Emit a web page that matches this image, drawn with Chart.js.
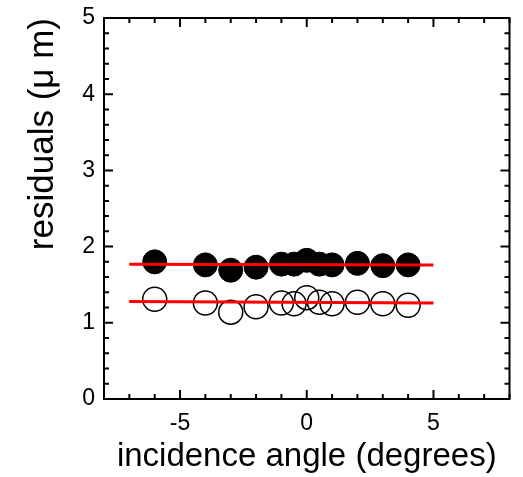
<!DOCTYPE html>
<html>
<head>
<meta charset="utf-8">
<script src="https://cdn.jsdelivr.net/npm/chart.js@4/dist/chart.umd.min.js"></script>
<style>
html,body{margin:0;padding:0;background:#fff;}
#wrap{width:523px;height:477px;position:relative;}
</style>
</head>
<body>
<div id="wrap"><canvas id="c" width="523" height="477"></canvas></div>
<script>
// ---- data ----
const angles = [-6, -4, -3, -2, -1, -0.5, 0, 0.5, 1, 2, 3, 4];
const filledResiduals = [1.80, 1.76, 1.69, 1.73, 1.77, 1.77, 1.82, 1.77, 1.76, 1.78, 1.75, 1.76];
const openResiduals   = [1.31, 1.26, 1.14, 1.21, 1.26, 1.25, 1.33, 1.27, 1.25, 1.27, 1.25, 1.23];
const fitX = [-7, 5];
const filledFit = [1.77, 1.76];
const openFit   = [1.28, 1.26];
const xMajorTicks = [-5, 0, 5];
const xMinorTicks = [-8,-7,-6,-4,-3,-2,-1,1,2,3,4,6,7,8];
const yMajorTicks = [0, 1, 2, 3, 4, 5];
const yMinorTicks = [0.2,0.4,0.6,0.8,1.2,1.4,1.6,1.8,2.2,2.4,2.6,2.8,3.2,3.4,3.6,3.8,4.2,4.4,4.6,4.8];
const xTitle = 'incidence angle (degrees)';
const yTitle = 'residuals (\u03bc m)';

const toPts = (xs, ys) => xs.map((x, i) => ({x: x, y: ys[i]}));

const FONT = '"Liberation Sans", Arial, Helvetica, sans-serif';

const frameTicks = {
  id: 'frameTicks',
  afterDraw(chart) {
    const ctx = chart.ctx;
    const a = chart.chartArea;
    const xs = chart.scales.x, ys = chart.scales.y;
    ctx.save();
    ctx.strokeStyle = '#000';
    ctx.lineWidth = 2;
    ctx.lineCap = 'butt';
    ctx.beginPath();
    const tick = (v, len, isX) => {
      if (isX) {
        const p = xs.getPixelForValue(v);
        ctx.moveTo(p, a.bottom); ctx.lineTo(p, a.bottom - len);
        ctx.moveTo(p, a.top); ctx.lineTo(p, a.top + len);
      } else {
        const p = ys.getPixelForValue(v);
        ctx.moveTo(a.left, p); ctx.lineTo(a.left + len, p);
        ctx.moveTo(a.right, p); ctx.lineTo(a.right - len, p);
      }
    };
    xMajorTicks.forEach(v => tick(v, 9, true));
    xMinorTicks.forEach(v => tick(v, 5, true));
    yMajorTicks.forEach(v => tick(v, 9, false));
    yMinorTicks.forEach(v => tick(v, 5, false));
    ctx.stroke();
    ctx.strokeRect(a.left, a.top, a.right - a.left, a.bottom - a.top);
    ctx.restore();
  }
};

const zeroPad = s => { s.paddingLeft = 0; s.paddingRight = 0; s.paddingTop = 0; s.paddingBottom = 0; };

new Chart(document.getElementById('c'), {
  type: 'scatter',
  data: {
    datasets: [
      {
        type: 'line', data: toPts(fitX, filledFit), borderColor: '#ff0000', borderWidth: 3,
        pointRadius: 0, fill: false, order: 0
      },
      {
        type: 'line', data: toPts(fitX, openFit), borderColor: '#ff0000', borderWidth: 3,
        pointRadius: 0, fill: false, order: 0
      },
      {
        data: toPts(angles, filledResiduals), pointRadius: 12, pointBackgroundColor: '#000',
        pointBorderColor: '#000', pointBorderWidth: 1, order: 1
      },
      {
        data: toPts(angles, openResiduals), pointRadius: 12, pointBackgroundColor: 'rgba(0,0,0,0)',
        pointBorderColor: '#000', pointBorderWidth: 1.5, order: 1
      }
    ]
  },
  options: {
    responsive: false,
    animation: false,
    devicePixelRatio: 1,
    layout: {padding: {left: 20, right: 12, top: 18, bottom: 0}},
    plugins: {legend: {display: false}, tooltip: {enabled: false}},
    scales: {
      x: {
        type: 'linear', min: -8, max: 8,
        afterBuildTicks: s => { s.ticks = xMajorTicks.map(v => ({value: v})); },
        afterFit: s => { s.height = 78; zeroPad(s); },
        grid: {display: false, drawTicks: false},
        border: {display: false},
        ticks: {color: '#000', padding: 11, font: {family: FONT, size: 23}, maxRotation: 0},
        title: {display: true, text: xTitle, color: '#000', padding: {top: 0, bottom: 0}, font: {family: FONT, size: 33}}
      },
      y: {
        type: 'linear', min: 0, max: 5,
        afterBuildTicks: s => { s.ticks = yMajorTicks.map(v => ({value: v})); },
        afterFit: s => { s.width = 84; zeroPad(s); },
        grid: {display: false, drawTicks: false},
        border: {display: false},
        ticks: {color: '#000', padding: 9, font: {family: FONT, size: 23}},
        title: {display: true, text: yTitle, color: '#000', align: 'end', padding: {top: 2, bottom: 0}, font: {family: FONT, size: 35}}
      }
    }
  },
  plugins: [frameTicks]
});
</script>
</body>
</html>
